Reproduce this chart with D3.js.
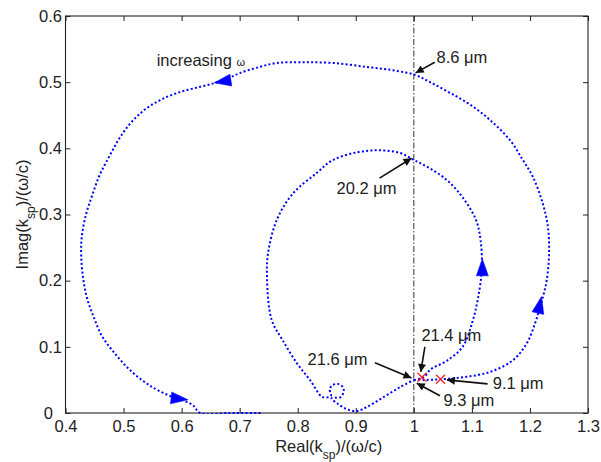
<!DOCTYPE html>
<html>
<head>
<meta charset="utf-8">
<script src="https://cdn.jsdelivr.net/npm/d3@7/dist/d3.min.js"></script>
<style>
  html, body { margin: 0; padding: 0; background: #fff; }
  svg { display: block; font-family: "Liberation Sans", Arial, sans-serif; }
</style>
</head>
<body>
<svg id="chart" width="601" height="462"></svg>
<script>
// ---------------- data ----------------
const xTickValues = [0.4, 0.5, 0.6, 0.7, 0.8, 0.9, 1.0, 1.1, 1.2, 1.3];
const xTickLabels = ["0.4", "0.5", "0.6", "0.7", "0.8", "0.9", "1", "1.1", "1.2", "1.3"];
const yTickValues = [0, 0.1, 0.2, 0.3, 0.4, 0.5, 0.6];
const yTickLabels = ["0", "0.1", "0.2", "0.3", "0.4", "0.5", "0.6"];

// outer loop (short wavelengths: 9.3 -> 9.1 -> 8.6 um ...)
const outerReal = [1.000, 1.019, 1.047, 1.085, 1.131, 1.171, 1.195, 1.209, 1.217, 1.224, 1.229, 1.233, 1.231, 1.222, 1.205, 1.188, 1.166, 1.131, 1.097, 1.062, 1.028, 1.002, 0.964, 0.919, 0.861, 0.809, 0.764, 0.730, 0.701, 0.683, 0.658, 0.632, 0.597, 0.563, 0.533, 0.511, 0.492, 0.475, 0.459, 0.446, 0.435, 0.428, 0.427, 0.430, 0.437, 0.449, 0.463, 0.484, 0.511, 0.546, 0.585, 0.597, 0.619, 0.632, 0.683, 0.738];
const outerImag = [0.050, 0.050, 0.051, 0.054, 0.062, 0.080, 0.106, 0.136, 0.159, 0.181, 0.201, 0.242, 0.281, 0.317, 0.357, 0.382, 0.412, 0.443, 0.466, 0.484, 0.500, 0.511, 0.518, 0.523, 0.529, 0.530, 0.529, 0.522, 0.514, 0.507, 0.499, 0.493, 0.485, 0.473, 0.456, 0.437, 0.414, 0.387, 0.360, 0.329, 0.299, 0.266, 0.239, 0.206, 0.174, 0.144, 0.116, 0.091, 0.065, 0.041, 0.024, 0.021, 0.012, 0.000, 0.000, 0.000];

// inner loop (long wavelengths: 21.6 -> 21.4 -> 20.2 um ...)
const innerReal = [1.000, 1.017, 1.029, 1.057, 1.084, 1.101, 1.110, 1.117, 1.115, 1.107, 1.084, 1.057, 1.027, 1.001, 0.976, 0.941, 0.902, 0.860, 0.833, 0.792, 0.764, 0.749, 0.747, 0.755, 0.774, 0.798, 0.821, 0.843, 0.857, 0.855, 0.860, 0.869, 0.878, 0.879, 0.874, 0.864, 0.858, 0.869, 0.884, 0.902, 0.919, 0.946, 0.976, 1.000];
const innerImag = [0.050, 0.054, 0.066, 0.079, 0.100, 0.138, 0.171, 0.216, 0.261, 0.292, 0.326, 0.352, 0.370, 0.382, 0.393, 0.397, 0.394, 0.382, 0.363, 0.332, 0.292, 0.242, 0.206, 0.141, 0.110, 0.076, 0.050, 0.024, 0.026, 0.036, 0.042, 0.044, 0.039, 0.032, 0.024, 0.023, 0.022, 0.014, 0.006, 0.003, 0.009, 0.023, 0.039, 0.050];

// direction arrows on curves: tip and tail (data units)
const dirTipReal  = [0.656, 0.611, 1.118, 1.220];
const dirTipImag  = [0.499, 0.020, 0.233, 0.176];
const dirTailReal = [0.684, 0.580, 1.118, 1.213];
const dirTailImag = [0.503, 0.023, 0.206, 0.148];

// red crosses
const crossReal = [1.014, 1.046];
const crossImag = [0.054, 0.051];

// annotations
const annText   = ["8.6 \u03bcm", "20.2 \u03bcm", "21.6 \u03bcm", "21.4 \u03bcm", "9.1 \u03bcm", "9.3 \u03bcm"];
const annTextX  = [1.039, 0.867, 0.817, 1.013, 1.136, 1.051];
const annTextY  = [0.538, 0.339, 0.082, 0.118, 0.045, 0.020];
const annFromX  = [1.036, 0.941, 0.933, 1.019, 1.127, 1.045];
const annFromY  = [0.530, 0.355, 0.076, 0.100, 0.044, 0.026];
const annTipX   = [1.003, 0.996, 0.996, 1.012, 1.057, 1.005];
const annTipY   = [0.514, 0.385, 0.053, 0.062, 0.050, 0.045];

const incLabel = "increasing";
const incOmega = "\u03c9";
const incX = 0.557, incY = 0.533;

const refLineX = 1.0;

// ---------------- layout ----------------
const svg = d3.select("#chart");
const L = 65.5, R = 588, T = 16, B = 413;
const x = d3.scaleLinear().domain([0.4, 1.3]).range([L, R]);
const y = d3.scaleLinear().domain([0, 0.6]).range([B, T]);
const FS = 16.5;

svg.append("defs").append("clipPath").attr("id", "plotclip")
  .append("rect").attr("x", L).attr("y", T - 2).attr("width", R - L).attr("height", B - T + 3);

// axes
const fmtX = (d) => xTickLabels[xTickValues.findIndex(v => Math.abs(v - d) < 1e-9)];
const fmtY = (d) => yTickLabels[yTickValues.findIndex(v => Math.abs(v - d) < 1e-9)];

const gx = svg.append("g").attr("transform", `translate(0,${B})`)
  .call(d3.axisBottom(x).tickValues(xTickValues).tickFormat(fmtX).tickSizeInner(-5).tickSizeOuter(0).tickPadding(7.5));
const gy = svg.append("g").attr("transform", `translate(${L},0)`)
  .call(d3.axisLeft(y).tickValues(yTickValues).tickFormat(fmtY).tickSizeInner(-5).tickSizeOuter(0).tickPadding(3.5));
const gxt = svg.append("g").attr("transform", `translate(0,${T})`)
  .call(d3.axisTop(x).tickValues(xTickValues).tickFormat("").tickSizeInner(-5).tickSizeOuter(0));
const gyr = svg.append("g").attr("transform", `translate(${R},0)`)
  .call(d3.axisRight(y).tickValues(yTickValues).tickFormat("").tickSizeInner(-5).tickSizeOuter(0));

[gx, gy, gxt, gyr].forEach(g => {
  g.select(".domain").remove();
  g.selectAll(".tick line").attr("stroke", "#222").attr("stroke-width", 1);
  g.selectAll("text").attr("font-size", FS).attr("fill", "#222")
    .attr("font-family", "'Liberation Sans', Arial, sans-serif");
});
// MATLAB-style zero label sits a little further left
gy.selectAll(".tick text").filter(d => d === 0).attr("dx", -9);

svg.append("rect").attr("x", L).attr("y", T).attr("width", R - L).attr("height", B - T)
  .attr("fill", "none").attr("stroke", "#222").attr("stroke-width", 1.1);

// reference line at Real = 1
svg.append("line")
  .attr("x1", x(refLineX)).attr("x2", x(refLineX)).attr("y1", y(0)).attr("y2", y(0.6))
  .attr("stroke", "#333").attr("stroke-width", 1).attr("stroke-dasharray", "6,2,1.5,2");

// curves
const line = d3.line().x(d => x(d[0])).y(d => y(d[1])).curve(d3.curveCatmullRom.alpha(0.5));
const plot = svg.append("g").attr("clip-path", "url(#plotclip)");
const outer = outerReal.map((v, i) => [v, outerImag[i]]);
const inner = innerReal.map((v, i) => [v, innerImag[i]]);
[outer, inner].forEach(pts => {
  plot.append("path").attr("d", line(pts))
    .attr("fill", "none").attr("stroke", "#0000ff").attr("stroke-width", 2)
    .attr("stroke-dasharray", "2,2.3");
});

// direction arrows
dirTipReal.forEach((_, i) => {
  const tx = x(dirTipReal[i]), ty = y(dirTipImag[i]);
  const bx = x(dirTailReal[i]), by = y(dirTailImag[i]);
  const dx = tx - bx, dy = ty - by, len = Math.hypot(dx, dy);
  const ux = dx / len, uy = dy / len;
  const aLen = 17, hw = 6;
  const baseX = tx - ux * aLen, baseY = ty - uy * aLen;
  const pts = [[tx, ty], [baseX - uy * hw, baseY + ux * hw], [baseX + uy * hw, baseY - ux * hw]];
  svg.append("path").attr("d", "M" + pts.map(p => p.join(",")).join("L") + "Z")
    .attr("fill", "#0000ff").attr("stroke", "#0000ff").attr("stroke-width", 0.5);
});

// red crosses
crossReal.forEach((_, i) => {
  const cx = x(crossReal[i]), cy = y(crossImag[i]), s = 4.5;
  svg.append("path")
    .attr("d", `M${cx - s},${cy - s}L${cx + s},${cy + s}M${cx - s},${cy + s}L${cx + s},${cy - s}`)
    .attr("stroke", "#ff2020").attr("stroke-width", 1.2).attr("fill", "none");
});

// annotation arrows
svg.append("defs").append("marker").attr("id", "ah")
  .attr("viewBox", "0 0 10 10").attr("refX", 10).attr("refY", 5)
  .attr("markerWidth", 10).attr("markerHeight", 8).attr("markerUnits", "userSpaceOnUse")
  .attr("orient", "auto")
  .append("path").attr("d", "M0,0L10,5L0,10Z").attr("fill", "#111");

annText.forEach((t, i) => {
  svg.append("line")
    .attr("x1", x(annFromX[i])).attr("y1", y(annFromY[i]))
    .attr("x2", x(annTipX[i])).attr("y2", y(annTipY[i]))
    .attr("stroke", "#111").attr("stroke-width", 1.6).attr("marker-end", "url(#ah)");
  svg.append("text").attr("x", x(annTextX[i])).attr("y", y(annTextY[i]))
    .attr("dy", "0.35em").attr("font-size", FS).attr("fill", "#222").text(t);
});

const inc = svg.append("text").attr("x", x(incX)).attr("y", y(incY)).attr("dy", "0.35em")
  .attr("font-size", FS).attr("fill", "#222");
inc.append("tspan").text(incLabel + " ");
inc.append("tspan").attr("font-size", 11).text(incOmega);

// axis titles
const xl = svg.append("text").attr("x", (L + R) / 2 + 2).attr("y", 452)
  .attr("text-anchor", "middle").attr("font-size", FS).attr("fill", "#222");
xl.append("tspan").text("Real(k");
xl.append("tspan").attr("font-size", 12).attr("dy", 7).text("sp");
xl.append("tspan").attr("dy", -7).text(")/(\u03c9/c)");

const yl = svg.append("text").attr("transform", `translate(28,${(T + B) / 2}) rotate(-90)`)
  .attr("text-anchor", "middle").attr("font-size", FS).attr("fill", "#222");
yl.append("tspan").text("Imag(k");
yl.append("tspan").attr("font-size", 12).attr("dy", 7).text("sp");
yl.append("tspan").attr("dy", -7).text(")/(\u03c9/c)");
</script>
</body>
</html>
